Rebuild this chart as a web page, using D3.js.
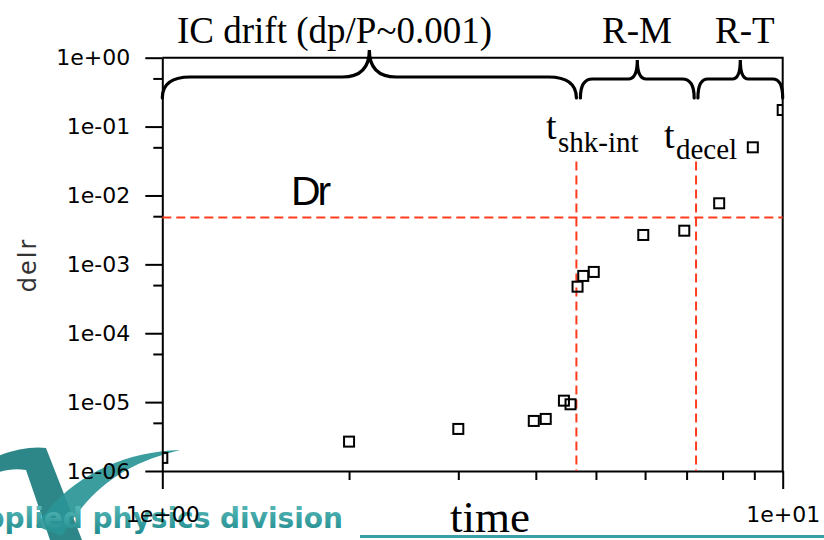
<!DOCTYPE html>
<html>
<head>
<meta charset="utf-8">
<script src="https://cdn.jsdelivr.net/npm/d3@7"></script>
<style>
  html, body { margin: 0; padding: 0; background: #fff; }
  svg { display: block; }
</style>
</head>
<body>
<svg id="chart" width="824" height="540"></svg>
<script>
// ---------- data ----------
const times = [1.0, 2.0, 3.0, 3.97, 4.15, 4.44, 4.55, 4.67, 4.77, 4.96, 5.96, 6.94, 7.9, 8.95, 10.0];
const delr  = [1.55e-6, 2.67e-6, 4.08e-6, 5.33e-6, 5.7e-6, 1.05e-5, 9.3e-6, 4.74e-4, 6.79e-4, 7.76e-4, 2.67e-3, 3.08e-3, 7.7e-3, 0.05, 0.174];

const yMajorTicks = [1e-6, 1e-5, 1e-4, 1e-3, 1e-2, 1e-1, 1];
const yTickLabels = ["1e-06", "1e-05", "1e-04", "1e-03", "1e-02", "1e-01", "1e+00"];
const yMinorTicks = [5e-6, 5e-5, 5e-4, 5e-3, 5e-2, 5e-1];
const xMajorTicks = [1, 10];
const xTickLabels = ["1e+00", "1e+01"];
const xMinorTicks = [2, 3, 4, 5, 6, 7, 8, 9];

const drLevel = 0.0048;          // horizontal dashed line
const tShkInt = 4.65;            // vertical dashed line 1
const tDecel  = 7.25;            // vertical dashed line 2
const vLineTop = 0.031;

const braceRanges = [[1.0, 4.65], [4.72, 7.2], [7.3, 10.0]];
const braceLabels = ["IC drift (dp/P~0.001)", "R-M", "R-T"];

// ---------- layout ----------
const L = 162.3, R = 782.7, T = 57.7, B = 471;
const svg = d3.select("#chart");
const x = d3.scaleLog().domain([1, 10]).range([L, R]);
const y = d3.scaleLog().domain([1e-6, 1]).range([B, T]);

const teal = "#2a9596", tealDark = "#1b7c7e", red = "#ff3c1e";

// ---------- logo (background) ----------
const defs = svg.append("defs");
const grad = defs.append("linearGradient").attr("id", "tealgrad")
  .attr("x1", 0).attr("y1", 0).attr("x2", 0).attr("y2", 1);
grad.append("stop").attr("offset", "0%").attr("stop-color", "#5cbcbc");
grad.append("stop").attr("offset", "100%").attr("stop-color", "#1f8a8c");

const logo = svg.append("g");
logo.append("path")
  .attr("d", "M -6,458 C 10,450 32,446 46,448 L 82,540 L 50,540 L 26,470 C 14,468 4,470 -6,474 Z")
  .attr("fill", tealDark).attr("opacity", 0.92);
logo.append("path")
  .attr("d", "M 36,526 C 68,478 120,452 180,450 C 132,462 94,482 62,536 Z")
  .attr("fill", teal).attr("opacity", 0.92);
logo.append("text")
  .attr("x", 343).attr("y", 528)
  .attr("text-anchor", "end")
  .attr("font-family", "DejaVu Sans")
  .attr("font-weight", "bold")
  .attr("font-size", 28)
  .attr("fill", "url(#tealgrad)")
  .text("applied physics division");
logo.append("line")
  .attr("x1", 360).attr("x2", 824).attr("y1", 536.5).attr("y2", 536.5)
  .attr("stroke", "#3a9fa6").attr("stroke-width", 3);

// ---------- axes ----------
const axisFont = g => g.selectAll("text")
  .attr("font-family", "DejaVu Sans").attr("font-size", 22).attr("fill", "#000");

const yAxis = svg.append("g").attr("transform", `translate(${L},0)`)
  .call(d3.axisLeft(y).tickValues(yMajorTicks).tickSize(17).tickSizeOuter(0).tickPadding(15)
    .tickFormat((d, i) => yTickLabels[i]));
yAxis.call(axisFont);
svg.append("g").attr("transform", `translate(${L},0)`)
  .call(d3.axisLeft(y).tickValues(yMinorTicks).tickSize(9).tickSizeOuter(0).tickFormat(""))
  .call(g => g.select(".domain").remove());

const xAxis = svg.append("g").attr("transform", `translate(0,${B})`)
  .call(d3.axisBottom(x).tickValues(xMajorTicks).tickSize(18).tickSizeOuter(0).tickPadding(17)
    .tickFormat((d, i) => xTickLabels[i]));
xAxis.call(axisFont);
svg.append("g").attr("transform", `translate(0,${B})`)
  .call(d3.axisBottom(x).tickValues(xMinorTicks).tickSize(9).tickSizeOuter(0).tickFormat(""))
  .call(g => g.select(".domain").remove());

svg.selectAll(".domain, .tick line").attr("stroke", "#000").attr("stroke-width", 2);

// frame (top + right)
svg.append("path")
  .attr("d", `M ${L},${T} L ${R},${T} L ${R},${B}`)
  .attr("fill", "none").attr("stroke", "#000").attr("stroke-width", 2);

// axis titles
svg.append("text")
  .attr("transform", `translate(36,265) rotate(-90)`)
  .attr("text-anchor", "middle")
  .attr("font-family", "DejaVu Sans").attr("font-size", 24)
  .attr("letter-spacing", 2)
  .attr("fill", "#333")
  .text("delr");
svg.append("text")
  .attr("x", 490).attr("y", 532)
  .attr("text-anchor", "middle")
  .attr("font-family", "Liberation Serif").attr("font-size", 45)
  .attr("fill", "#000")
  .text("time");

// ---------- dashed reference lines ----------
const dash = "9,5";
svg.append("line")
  .attr("x1", x(1)).attr("x2", x(10)).attr("y1", y(drLevel)).attr("y2", y(drLevel))
  .attr("stroke", red).attr("stroke-width", 2).attr("stroke-dasharray", dash);
[tShkInt, tDecel].forEach(t => {
  svg.append("line")
    .attr("x1", x(t)).attr("x2", x(t)).attr("y1", y(vLineTop)).attr("y2", y(1e-6))
    .attr("stroke", red).attr("stroke-width", 2).attr("stroke-dasharray", dash);
});

// ---------- points ----------
svg.append("clipPath").attr("id", "plotclip")
  .append("rect").attr("x", L).attr("y", T - 10).attr("width", R - L).attr("height", B - T + 10);
svg.append("g").attr("clip-path", "url(#plotclip)")
  .selectAll("rect").data(times.map((t, i) => [t, delr[i]]))
  .join("rect")
  .attr("x", d => x(d[0]) - 5).attr("y", d => y(d[1]) - 5)
  .attr("width", 10).attr("height", 10)
  .attr("fill", "none").attr("stroke", "#000").attr("stroke-width", 2);

// ---------- braces ----------
function bracePath(x0, x1, yEnd, yFlat, yTip, rEnd, rTip) {
  const xm = (x0 + x1) / 2;
  return `M ${x0},${yEnd} Q ${x0},${yFlat} ${x0 + rEnd},${yFlat} L ${xm - rTip},${yFlat} ` +
         `Q ${xm},${yFlat} ${xm},${yTip} Q ${xm},${yFlat} ${xm + rTip},${yFlat} ` +
         `L ${x1 - rEnd},${yFlat} Q ${x1},${yFlat} ${x1},${yEnd}`;
}
const braceGeom = [
  {yFlat: 77, yTip: 50, rEnd: 28, rTip: 27},
  {yFlat: 79, yTip: 60, rEnd: 12, rTip: 9},
  {yFlat: 79, yTip: 60, rEnd: 10, rTip: 8}
];
braceRanges.forEach((r, i) => {
  const g = braceGeom[i];
  svg.append("path")
    .attr("d", bracePath(x(r[0]), x(r[1]), 98, g.yFlat, g.yTip, g.rEnd, g.rTip))
    .attr("fill", "none").attr("stroke", "#000").attr("stroke-width", 3.2)
    .attr("stroke-linecap", "round");
});

// ---------- annotations ----------
const serif = "Liberation Serif";
const labelX = [177, 602, 715];
braceLabels.forEach((s, i) => {
  svg.append("text").attr("x", labelX[i]).attr("y", 43)
    .attr("font-family", serif).attr("font-size", 37).attr("fill", "#000").text(s);
});
function tLabel(xp, yp, sub, subDy) {
  svg.append("text").attr("x", xp).attr("y", yp)
    .attr("font-family", serif).attr("font-size", 38).attr("fill", "#000").text("t");
  svg.append("text").attr("x", xp + 12).attr("y", yp + subDy)
    .attr("font-family", serif).attr("font-size", 29).attr("fill", "#000").text(sub);
}
tLabel(546, 139, "shk-int", 13);
tLabel(664, 148, "decel", 11);

svg.append("text").attr("x", 291).attr("y", 205)
  .attr("font-family", "Liberation Sans").attr("font-size", 41)
  .attr("letter-spacing", -3).attr("fill", "#000").text("Dr");
</script>
</body>
</html>
